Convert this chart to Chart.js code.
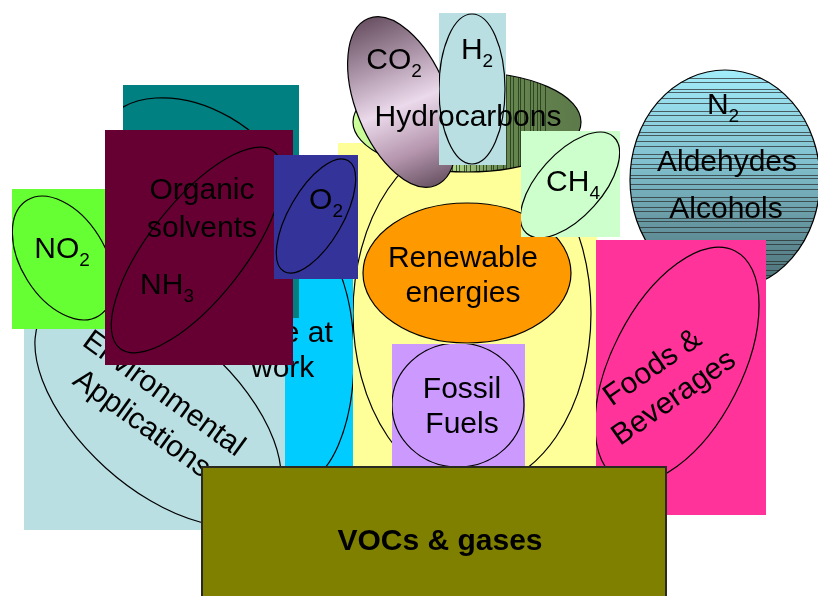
<!DOCTYPE html>
<html>
<head>
<meta charset="utf-8">
<script src="https://cdn.jsdelivr.net/npm/chart.js@4.4.1/dist/chart.umd.min.js"></script>
<style>
  html, body { margin: 0; padding: 0; background: #fff; }
  #wrap { width: 818px; height: 596px; }
</style>
</head>
<body>
<div id="wrap"><canvas id="diagram"></canvas></div>
<script>
// back to front
var layers = ['env','energy','work','teal','no2','organic','o2','renew','fossil','hydro','co2','h2','hydroText','ch4','n2','foods','voc'];

// boxes (chart units, y goes down)
var boxNames  = ['env','energy','work','teal','no2','organic','o2','fossil','h2','ch4','foods','voc'];
var boxLeft   = [24, 338, 285, 123, 12, 105, 274, 392, 439, 521, 596, 202];
var boxRight  = [285, 597, 353, 299, 105, 293, 358, 525, 506, 620, 766, 666];
var boxTop    = [300, 143, 250, 85, 189, 130, 155, 344, 13, 131, 240, 467];
var boxBottom = [530, 467, 467, 318, 329, 365, 279, 467, 165, 237, 515, 600];

// ellipses
var ellNames = ['env','energy','work','teal','no2','organic','o2','renew','fossil','hydro','co2','h2','ch4','n2','foods'];
var ellX   = [158, 472, 300, 195, 63, 197, 316, 467, 458, 467, 402, 472, 570, 725, 677];
var ellY   = [410, 313, 357, 178, 258, 250, 216, 273, 405, 122, 102, 89, 185, 180, 365];
var ellRX  = [150, 119, 54, 105, 68, 125, 64, 104, 66, 114, 90, 33, 65, 95, 128];
var ellRY  = [78, 175, 125, 70, 42, 48, 27, 70, 62, 50, 46, 75, 32, 110, 65];
var ellRot = [42, 0, 0, 30, 58, -52, -60, 0, 0, 0, 68, 0, -48, 0, -63];

// labels ("_" marks a subscript character, "\n" a new line)
var labelLayer = ['env','work','no2','organic','organic','o2','renew','fossil','co2','h2','hydroText','ch4','n2','n2','n2','foods','voc'];
var labelText  = ['Environmental\nApplications','Life at\nwork','NO_2','Organic\nsolvents','NH_3','O_2','Renewable\nenergies','Fossil\nFuels','CO_2','H_2','Hydrocarbons','CH_4','N_2','Aldehydes','Alcohols','Foods &\nBeverages','VOCs & gases'];
var labelX     = [154, 251, 62, 202, 167, 326, 463, 462, 394, 477, 468, 573, 723, 727, 726, 662, 440];
var labelY     = [407, 349, 247, 207, 283, 198, 274, 405, 58, 48, 115, 180, 103, 160, 207, 381, 539];
var labelRot   = [36, 0, 0, 0, 0, 0, 0, 0, 0, 0, 0, 0, 0, 0, 0, -35, 0];

var boxColor = {env:'#B9DFE3', energy:'#FFFF99', work:'#00CCFF', teal:'#008080', no2:'#66FF33',
  organic:'#660033', o2:'#333399', fossil:'#CC99FF', h2:'#B9DFE3', ch4:'#CCFFCC', foods:'#FF3399', voc:'#808000'};
var FONT = '"Liberation Sans", Arial, sans-serif';

function fillEllipse(ctx, name, x, y, rx, ry, rot) {
    if (name == 'renew') {
        ctx.fillStyle = '#FF9900';
        ctx.fill();
    } else if (name == 'hydro') {
        var g = ctx.createLinearGradient(x - rx, 0, x + rx, 0);
        g.addColorStop(0, '#CCFF99');
        g.addColorStop(0.45, '#AED488');
        g.addColorStop(0.66, '#66864F');
        g.addColorStop(1, '#5C7A4A');
        ctx.fillStyle = g;
        ctx.fill();
        ctx.save();
        ctx.clip();
        ctx.strokeStyle = 'rgba(30,50,20,0.75)';
        ctx.lineWidth = 1;
        var steps = [3, 5, 2, 4, 6, 3, 4];
        var k = 0;
        for (var lx = x - rx + 22; lx < x + rx * 0.7; lx += steps[k++ % steps.length]) {
            ctx.beginPath();
            ctx.moveTo(Math.round(lx) + 0.5, y - ry);
            ctx.lineTo(Math.round(lx) + 0.5, y + ry);
            ctx.stroke();
        }
        ctx.restore();
    } else if (name == 'co2') {
        ctx.save();
        ctx.translate(x, y);
        ctx.rotate(rot);
        var g2 = ctx.createLinearGradient(-rx, 0, rx, 0);
        g2.addColorStop(0, '#6A5264');
        g2.addColorStop(0.28, '#B098AC');
        g2.addColorStop(0.52, '#EBDAEB');
        g2.addColorStop(0.78, '#B596AE');
        g2.addColorStop(1, '#6A5464');
        ctx.fillStyle = g2;
        ctx.fill();
        ctx.restore();
    } else if (name == 'n2') {
        var g3 = ctx.createLinearGradient(0, y - ry, 0, y + ry);
        g3.addColorStop(0, '#A2ECFA');
        g3.addColorStop(0.45, '#7EBCCA');
        g3.addColorStop(1, '#4A6C72');
        ctx.fillStyle = g3;
        ctx.fill();
        ctx.save();
        ctx.clip();
        ctx.strokeStyle = 'rgba(40,40,40,0.7)';
        ctx.lineWidth = 1;
        var gaps = [4, 7, 3, 6, 5, 8, 4, 6];
        var j = 0;
        for (var ly = y - ry + 8; ly < y + ry; ly += gaps[j++ % gaps.length]) {
            ctx.beginPath();
            ctx.moveTo(x - rx, Math.round(ly) + 0.5);
            ctx.lineTo(x + rx, Math.round(ly) + 0.5);
            ctx.stroke();
        }
        ctx.restore();
    }
}

function drawLine(ctx, str, x, y, size, bold, align) {
    var parts = [];
    for (var i = 0; i < str.length; i++) {
        if (str[i] == '_') { parts.push([str[i + 1], true]); i++; }
        else if (parts.length && !parts[parts.length - 1][1]) parts[parts.length - 1][0] += str[i];
        else parts.push([str[i], false]);
    }
    var w = 0;
    parts.forEach(function (p) {
        ctx.font = (bold ? 'bold ' : '') + (p[1] ? Math.round(size * 0.62) : size) + 'px ' + FONT;
        p.push(ctx.measureText(p[0]).width);
        w += p[2];
    });
    var cx = align == 'left' ? x : x - w / 2;
    parts.forEach(function (p) {
        ctx.font = (bold ? 'bold ' : '') + (p[1] ? Math.round(size * 0.62) : size) + 'px ' + FONT;
        ctx.fillText(p[0], cx, y + (p[1] ? 8 : 0));
        cx += p[2];
    });
}

var diagramPlugin = {
    id: 'diagram',
    afterDatasetsDraw: function (chart) {
        var ctx = chart.ctx;
        var xs = chart.scales.x, ys = chart.scales.y;
        var px = function (v) { return xs.getPixelForValue(v); };
        var py = function (v) { return ys.getPixelForValue(v); };
        var sx = px(1) - px(0), sy = py(1) - py(0);

        layers.forEach(function (name) {
            var b = boxNames.indexOf(name);
            if (b >= 0) {
                var x0 = px(boxLeft[b]), y0 = py(boxTop[b]);
                var w = px(boxRight[b]) - x0, h = py(boxBottom[b]) - y0;
                ctx.fillStyle = boxColor[name];
                ctx.fillRect(x0, y0, w, h);
                if (name == 'voc') {
                    ctx.strokeStyle = '#2A2A20';
                    ctx.lineWidth = 2;
                    ctx.strokeRect(x0, y0, w, h);
                }
            }
            var e = ellNames.indexOf(name);
            if (e >= 0) {
                ctx.save();
                if (b >= 0) {
                    ctx.beginPath();
                    ctx.rect(px(boxLeft[b]), py(boxTop[b]), px(boxRight[b]) - px(boxLeft[b]), py(boxBottom[b]) - py(boxTop[b]));
                    ctx.clip();
                }
                var ex = px(ellX[e]), ey = py(ellY[e]), erx = ellRX[e] * sx, ery = ellRY[e] * sy;
                var rot = ellRot[e] * Math.PI / 180;
                ctx.beginPath();
                ctx.ellipse(ex, ey, erx, ery, rot, 0, Math.PI * 2);
                fillEllipse(ctx, name, ex, ey, erx, ery, rot);
                ctx.beginPath();
                ctx.ellipse(ex, ey, erx, ery, rot, 0, Math.PI * 2);
                ctx.strokeStyle = '#000';
                ctx.lineWidth = 1.2;
                ctx.stroke();
                ctx.restore();
            }
            labelLayer.forEach(function (ln, i) {
                if (ln != name) return;
                var bold = name == 'voc';
                var size = 30;
                var lines = labelText[i].split('\n');
                var lh = name == 'organic' ? 38 : (labelRot[i] ? 37 : 35);
                var align = name == 'work' ? 'left' : 'center';
                ctx.save();
                ctx.translate(px(labelX[i]), py(labelY[i]));
                ctx.rotate(labelRot[i] * Math.PI / 180);
                ctx.fillStyle = '#000';
                ctx.textBaseline = 'alphabetic';
                lines.forEach(function (s, k) {
                    drawLine(ctx, s, 0, (k - (lines.length - 1) / 2) * lh + 0.36 * size, size, bold, align);
                });
                ctx.restore();
            });
        });
    }
};

new Chart(document.getElementById('diagram'), {
    type: 'scatter',
    data: {
        datasets: [{
            label: 'shapes',
            data: ellNames.map(function (n, i) { return {x: ellX[i], y: ellY[i]}; }),
            pointRadius: 0
        }]
    },
    options: {
        responsive: true,
        maintainAspectRatio: false,
        animation: false,
        events: [],
        layout: { padding: 0 },
        plugins: { legend: { display: false }, tooltip: { enabled: false } },
        scales: {
            x: { type: 'linear', min: 0, max: 818, display: false },
            y: { type: 'linear', min: 0, max: 596, reverse: true, display: false }
        }
    },
    plugins: [diagramPlugin]
});
</script>
</body>
</html>
